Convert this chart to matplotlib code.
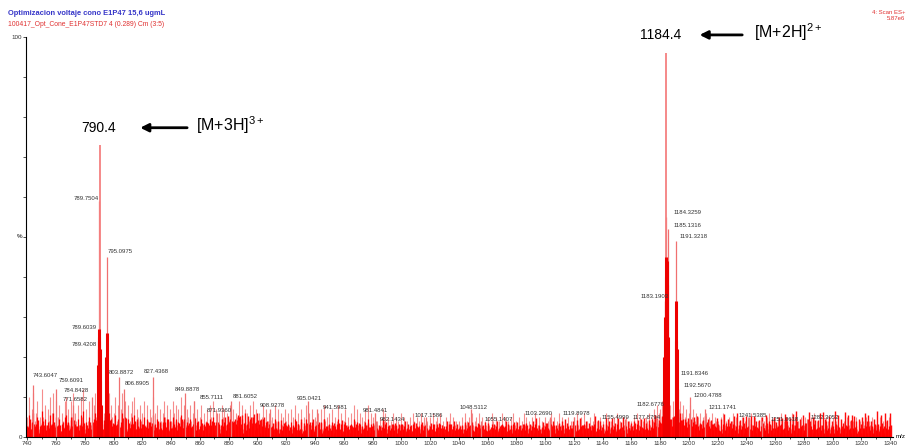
import matplotlib.pyplot as plt
import numpy as np

plt.rcParams['font.family'] = ['Liberation Sans', 'DejaVu Sans']
plt.rcParams['mathtext.fontset'] = 'custom'
plt.rcParams['mathtext.rm'] = 'Liberation Sans'

# noise spikes, one hex digit (%) per m/z unit starting at 740
noise_start = 740
noise_rows = [
    "5a37b46925" "c58374a6b3" "9582649a73" "95b6483a5c" "2749368b5a" "4736927b85",
    "6a4837b592" "8469a37584" "6938475a36" "8274695837" "4968375a48" "3758469372",
    "5836472859" "3746285736" "4827365948" "2736485937" "4625837462" "5384726357",
    "4637258463" "7253846372" "5463728453" "6372548362" "4735263847" "3625473826",
    "5364253746" "2534635243" "6352435264" "3542635243" "5263452634" "2534625343",
    "4352634526" "3452635243" "5326435243" "6352435263" "4253463524" "3526435243",
    "5342635243" "6352435243" "5263452634" "2534624353" "4263524352" "6342535243",
    "4352635243" "5463547586" "7968576859" "6857968574" "6857465364" "5463546354",
    "4352634253" "4635243524" "3526345243" "5243526342" "4352634253" "4263524352",
    "3524352634" "2534253423" "5243524342" "5342435234" "2435243524" "3425342435",
    "3",
]
noise_h = [int(c, 16) for c in "".join(noise_rows)]
noise_mz = noise_start + np.arange(len(noise_h))

# labelled peaks
peak_mz = [743.6047, 759.6091, 771.6582, 784.8428, 789.4208, 789.6039, 789.7504,
           795.0975, 803.8872, 806.8905, 827.4368, 849.8878, 855.7111, 871.9360,
           881.6052, 908.9278, 935.0421, 941.5981, 981.4841, 982.1434, 1017.1586,
           1048.5112, 1055.1407, 1103.2690, 1119.8978, 1155.4999, 1177.8794,
           1182.6776, 1183.1903, 1184.3259, 1185.1316, 1191.3218, 1191.8346,
           1192.5670, 1200.4788, 1211.1741, 1241.5385, 1251.0618, 1282.3052]
peak_h = [13, 12, 8, 10, 22, 26, 59,
          45, 15, 12, 15, 11, 9, 6,
          9, 7, 9, 7, 6, 4, 5,
          7, 4, 5, 5, 4.5, 4.5,
          7.5, 34, 55, 52, 49, 15,
          12, 10, 7, 5, 4, 4.5]
label_x = [752.6, 770.3, 773.1, 774.1, 779.3, 779.3, 781.1,
           804.4, 805.1, 816.2, 829.4, 851.0, 868.3, 873.2,
           891.3, 910.1, 935.8, 953.9, 982.0, 993.9, 1018.9,
           1050.2, 1067.9, 1095.4, 1121.8, 1148.6, 1170.5,
           1173.6, 1176.1, 1199.4, 1199.0, 1203.5, 1204.2,
           1206.3, 1212.9, 1223.3, 1244.2, 1266.8, 1294.3]
label_y = [15.3, 14, 9.3, 11.5, 23, 27.3, 59.5,
           46.3, 16, 13.3, 16.3, 11.8, 9.8, 6.5,
           10, 7.8, 9.5, 7.3, 6.5, 4.3, 5.3,
           7.3, 4.3, 5.8, 5.8, 4.8, 4.8,
           8, 35, 56, 52.8, 50, 15.8,
           12.8, 10.3, 7.3, 5.3, 4.3, 4.8]

# base peaks
main_mz = [790.4, 1184.4]
main_h = [73, 96]
main_text = ['790.4', '1184.4']
ion_text = ['[M+3H]$^{3+}$', '[M+2H]$^{2+}$']

# dense isotope envelopes (solid red)
cluster_mz = [789.2, 789.5, 789.8, 790.1, 790.4, 790.7, 791.0, 794.8, 795.1, 795.4,
              1183.0, 1183.4, 1183.8, 1184.2, 1184.6, 1185.0, 1185.4, 1190.9, 1191.3, 1191.7]
cluster_h = [18, 24, 27, 25, 22, 14, 8, 20, 26, 14,
             20, 30, 40, 45, 44, 38, 25, 24, 34, 22]

fig = plt.figure(figsize=(9.08, 4.48), dpi=100)
ax = fig.add_axes([0.0286, 0.0246, 0.955, 0.893])

noise_h = np.array(noise_h, dtype=float)
ax.vlines(noise_mz, 0, noise_h, color='#f68c8c', lw=0.8)
ax.vlines(noise_mz + 0.5, 0, noise_h[::-1] * 0.5 + noise_h * 0.2, color='#ff0a0a', lw=1.0)
ax.vlines(noise_mz, 0, noise_h * 0.55, color='#ff0000', lw=0.9)
ax.fill_between(noise_mz, 0, noise_h * 0.35, color='#ff0000', lw=0)
ax.vlines(peak_mz, 0, peak_h, color='#f07070', lw=0.9)
ax.vlines(main_mz, 0, main_h, color='#f58080', lw=1.3)
ax.vlines(cluster_mz, 0, cluster_h, color='#ee0000', lw=2.2)

for x, y, mz in zip(label_x, label_y, peak_mz):
    ax.text(x, y, '%.4f' % mz, fontsize=4.3, color='#333333', ha='center', va='center')

# big annotations
ax.text(789.7, 77.3, main_text[0], fontsize=10, ha='center', va='center')
ax.annotate('', xy=(816.5, 77.3), xytext=(853, 77.3),
            arrowprops=dict(arrowstyle='-|>', color='black', lw=2, mutation_scale=12))
ax.text(857, 78, ion_text[0], fontsize=11.5, ha='left', va='center')
ax.text(1180, 100.5, main_text[1], fontsize=10, ha='center', va='center')
ax.annotate('', xy=(1205.5, 100.5), xytext=(1239, 100.5),
            arrowprops=dict(arrowstyle='-|>', color='black', lw=2, mutation_scale=12),
            annotation_clip=False)
ax.text(1245, 101.2, ion_text[1], fontsize=11.5, ha='left', va='center')

ax.set_xlim(739, 1342)
ax.set_ylim(0, 100)
for s in ['top', 'right']:
    ax.spines[s].set_visible(False)
ax.spines['left'].set_linewidth(0.8)
ax.spines['bottom'].set_linewidth(0.8)
ax.set_yticks(np.arange(0, 101, 10))
ax.set_yticklabels(['0'] + [''] * 9 + ['100'])
ax.set_xticks(np.arange(740, 1341, 20))
ax.set_xticks(np.arange(740, 1341, 10), minor=True)
ax.tick_params(labelsize=4.5, length=2, width=0.6, pad=1, colors='#333333')
ax.tick_params(which='minor', length=1.2, width=0.5)
ax.text(-0.004, 0.5, '%', transform=ax.transAxes, fontsize=4.5, ha='right', va='center')
ax.text(1.003, 0.0, 'm/z', transform=ax.transAxes, fontsize=4.5, ha='left', va='center')

fig.text(0.009, 0.966, 'Optimizacion voltaje cono E1P47 15,6 ugmL', fontsize=5.4,
         fontweight='bold', color='#3535c8')
fig.text(0.009, 0.943, '100417_Opt_Cone_E1P47STD7 4 (0.289) Cm (3:5)', fontsize=4.9,
         color='#e03030')
fig.text(0.997, 0.955, '4: Scan ES+\n5.87e6', fontsize=4.3, color='#e03030',
         ha='right', multialignment='right')

fig.savefig('out.png', dpi=100)
